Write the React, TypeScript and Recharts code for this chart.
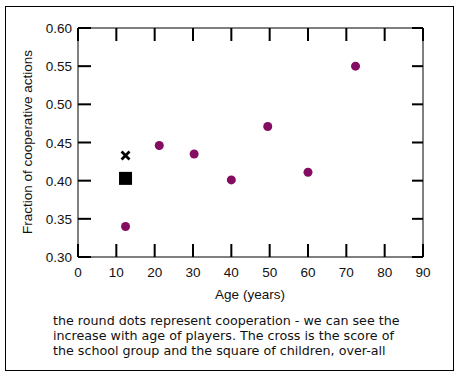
import React from 'react';
import { ScatterChart, Scatter, XAxis, YAxis } from 'recharts';

// values
const ages = [12.4, 21.2, 30.3, 40, 49.5, 60, 72.4];
const cooperation = [0.34, 0.446, 0.435, 0.401, 0.471, 0.411, 0.55];
const schoolAges = [12.4];
const schoolScores = [0.433];
const childrenAges = [12.4];
const childrenScores = [0.403];
const xTicks = [0, 10, 20, 30, 40, 50, 60, 70, 80, 90];
const yTicks = [0.3, 0.35, 0.4, 0.45, 0.5, 0.55, 0.6];

const caption = [
  'the round dots represent cooperation - we can see the',
  'increase with age of players. The cross is the score of',
  'the school group and the square of children, over-all',
];

const dots = ages.map((a, i) => ({ age: a, value: cooperation[i] }));
const school = schoolAges.map((a, i) => ({ age: a, value: schoolScores[i] }));
const children = childrenAges.map((a, i) => ({ age: a, value: childrenScores[i] }));

const FONT = '"Liberation Sans", Arial, sans-serif';
const FS = 13.5;

// inward tick marks drawn as rects from the custom tick renderers
const bottomTick = (props: any) => {
  const { x, y, payload } = props;
  return (
    <g>
      <rect x={x - 1} y={y - 13} width={2} height={13} fill="black" />
      <text x={x} y={y + 20} textAnchor="middle" fontSize={FS} fontFamily={FONT} fill="#111">{payload.value}</text>
    </g>
  );
};

const topTick = (props: any) => {
  const { x, y } = props;
  return <rect x={x - 1} y={y} width={2} height={13} fill="black" />;
};

const leftTick = (props: any) => {
  const { x, y, payload } = props;
  return (
    <g>
      <rect x={x} y={y - 1} width={13} height={2} fill="black" />
      <text x={x - 6} y={y + 5} textAnchor="end" fontSize={FS} fontFamily={FONT} fill="#111">
        {Number(payload.value).toFixed(2)}
      </text>
    </g>
  );
};

const rightTick = (props: any) => {
  const { x, y } = props;
  return <rect x={x - 11} y={y - 1} width={11} height={2} fill="black" />;
};

const Dot = (props: any) => <circle cx={props.cx} cy={props.cy} r={4.5} fill="#840c63" />;

const Cross = (props: any) => {
  const { cx, cy } = props;
  const s = 4;
  return (
    <g stroke="#000" strokeWidth={2.8}>
      <line x1={cx - s} y1={cy - s} x2={cx + s} y2={cy + s} />
      <line x1={cx - s} y1={cy + s} x2={cx + s} y2={cy - s} />
    </g>
  );
};

const Square = (props: any) => <rect x={props.cx - 6.5} y={props.cy - 6.5} width={13} height={13} fill="#000" />;

export default function App() {
  return (
    <div style={{ position: 'absolute', left: 0, top: 0, width: 459, height: 377, background: '#fff' }}>
      <div style={{ position: 'absolute', left: 5, top: 6, width: 447, height: 363, border: '1px solid #000' }} />
      <div style={{ position: 'absolute', left: 0, top: 0 }}>
        <ScatterChart width={459} height={377} margin={{ top: 27, right: 35, bottom: 0, left: 0 }}>
          <XAxis xAxisId="b" dataKey="age" type="number" domain={[0, 90]} ticks={xTicks} interval={0} height={120}
            tickSize={0} tickMargin={0} tickLine={false} stroke="#000" tick={bottomTick} />
          <XAxis xAxisId="t" dataKey="age" orientation="top" type="number" domain={[0, 90]} ticks={xTicks} interval={0} height={1}
            tickSize={0} tickMargin={0} tickLine={false} stroke="#000" tick={topTick} />
          <YAxis yAxisId="l" dataKey="value" type="number" domain={[0.3, 0.6]} ticks={yTicks} interval={0} width={78}
            tickSize={0} tickMargin={0} tickLine={false} stroke="#000" tick={leftTick} />
          <YAxis yAxisId="r" dataKey="value" orientation="right" type="number" domain={[0.3, 0.6]} ticks={yTicks} interval={0} width={1}
            tickSize={0} tickMargin={0} tickLine={false} stroke="#000" tick={rightTick} />
          <Scatter xAxisId="b" yAxisId="l" data={dots} shape={<Dot />} isAnimationActive={false} />
          <Scatter xAxisId="b" yAxisId="l" data={school} shape={<Cross />} isAnimationActive={false} />
          <Scatter xAxisId="b" yAxisId="l" data={children} shape={<Square />} isAnimationActive={false} />
          <Scatter xAxisId="t" yAxisId="r" data={dots} shape={() => <g />} isAnimationActive={false} />
        </ScatterChart>
      </div>
      <div style={{ position: 'absolute', left: 28, top: 142, transform: 'translate(-50%, -50%) rotate(-90deg)', whiteSpace: 'nowrap', fontFamily: FONT, fontSize: FS, lineHeight: '16px', color: '#111' }}>
        Fraction of cooperative actions
      </div>
      <div style={{ position: 'absolute', left: 250, top: 295, transform: 'translate(-50%, -50%)', whiteSpace: 'nowrap', fontFamily: FONT, fontSize: FS, lineHeight: '16px', color: '#111' }}>
        Age (years)
      </div>
      <div style={{ position: 'absolute', left: 53, top: 313, fontFamily: '"DejaVu Sans", sans-serif', fontSize: 12.7, lineHeight: '15px', color: '#111' }}>
        {caption.map((l) => (
          <div key={l}>{l}</div>
        ))}
      </div>
    </div>
  );
}
